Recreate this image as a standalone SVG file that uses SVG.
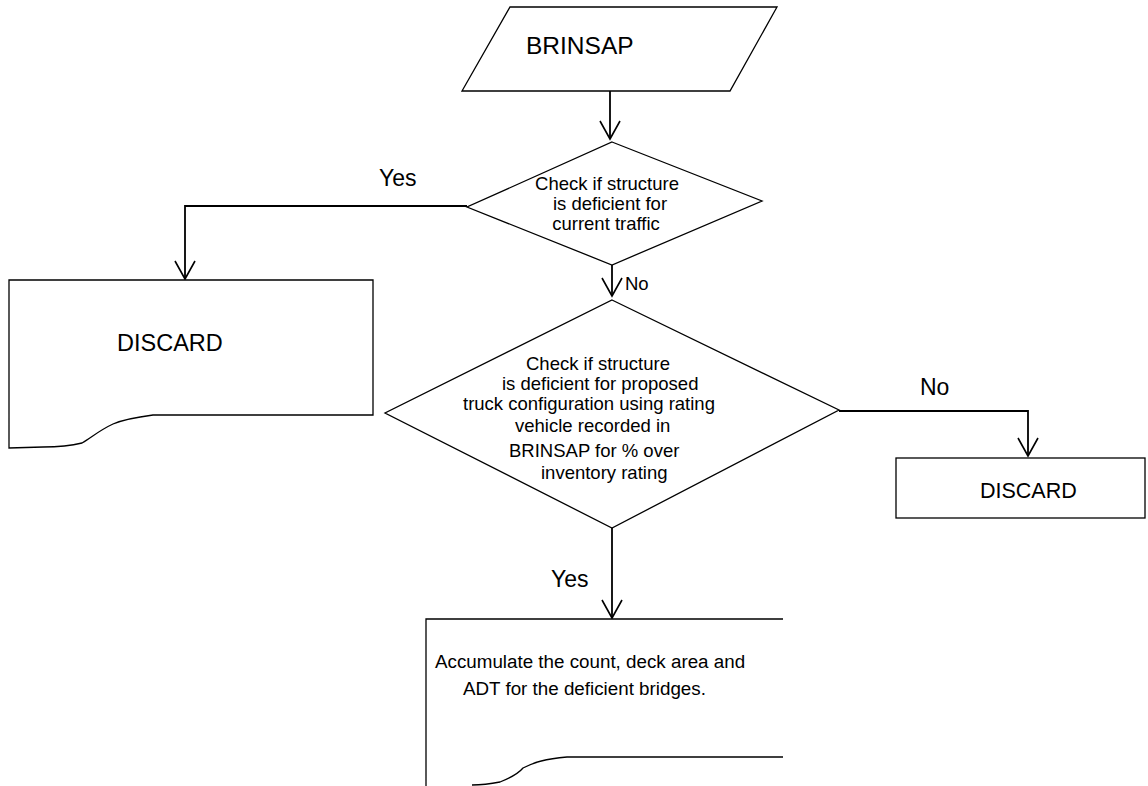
<svg xmlns="http://www.w3.org/2000/svg" width="1148" height="786" viewBox="0 0 1148 786">
<style>
.shape{fill:#fff;stroke:#000;stroke-width:1.3}
.conn{fill:none;stroke:#000;stroke-width:1.8}
text{font-family:"Liberation Sans",Arial,sans-serif;fill:#000}
.t18{font-size:18.5px}
.t19{font-size:18.8px}
.lbl{font-size:23px}
</style>
<defs>
<marker id="arr" markerUnits="userSpaceOnUse" markerWidth="20" markerHeight="24" viewBox="0 0 20 24" refX="18" refY="10" orient="auto" overflow="visible">
<path d="M0,0 L18,10 L0,20" fill="none" stroke="#000" stroke-width="1.6"/>
</marker>
</defs>
<g id="connectors">
<path class="conn" d="M610,91 V139" marker-end="url(#arr)"/>
<path class="conn" d="M467,206 H185 V279" marker-end="url(#arr)"/>
<path class="conn" d="M612,265 V296" marker-end="url(#arr)"/>
<path class="conn" d="M839,411 H1028 V456" marker-end="url(#arr)"/>
<path class="conn" d="M612,528 V618" marker-end="url(#arr)"/>
</g>
<g id="labels">
<text class="lbl" x="379" y="186">Yes</text>
<text class="t18" x="625" y="290">No</text>
<text class="lbl" x="920" y="395">No</text>
<text class="lbl" x="551" y="587">Yes</text>
</g>
<g id="brinsap">
<polygon class="shape" points="510,7 777,7 730,91 462,91"/>
<text x="526" y="54" style="font-size:24.5px">BRINSAP</text>
</g>
<g id="decision1">
<polygon class="shape" points="612,142 762,201 612,265 467,207"/>
<text class="t18" text-anchor="middle" x="607" y="190">Check if structure</text>
<text class="t18" text-anchor="middle" x="610" y="210">is deficient for</text>
<text class="t18" text-anchor="middle" x="606" y="230">current traffic</text>
</g>
<g id="discard-left">
<path class="shape" d="M9,280 H373 V415 H153 C130,418 120,421 113,424 C100,430 92,437 82,443 C70,446 55,447 43,447 L9,448 Z"/>
<text x="117" y="351" style="font-size:23.5px">DISCARD</text>
</g>
<g id="decision2">
<polygon class="shape" points="612,300 839,410 612,528 385,413"/>
<text class="t18" x="526" y="370">Check if structure</text>
<text class="t18" x="502" y="390">is deficient for proposed</text>
<text class="t18" x="463" y="410">truck configuration using rating</text>
<text class="t18" x="515" y="432">vehicle recorded in</text>
<text class="t18" x="509" y="457">BRINSAP for % over</text>
<text class="t18" x="541" y="479">inventory rating</text>
</g>
<g id="discard-right">
<rect class="shape" x="896" y="458" width="249" height="60"/>
<text x="980" y="498" style="font-size:21.5px">DISCARD</text>
</g>
<g id="accumulate">
<path class="shape" d="M426,787 V619 H783 M783,757 H567 C545,759 535,762 523,768 C518,774 510,778 500,782 C490,784 480,785 472,785"/>
<text class="t19" x="435" y="668">Accumulate the count, deck area and</text>
<text class="t19" x="463" y="695">ADT for the deficient bridges.</text>
</g>
</svg>
